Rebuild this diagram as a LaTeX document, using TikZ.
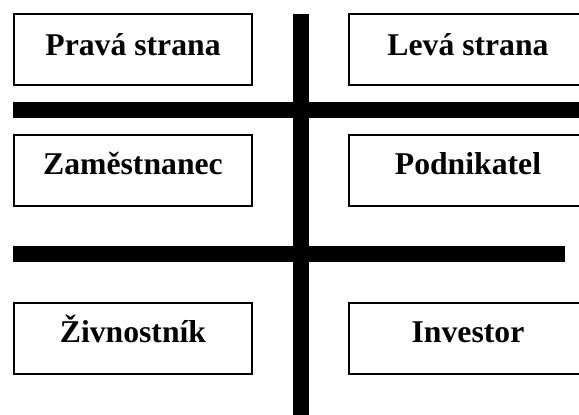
\documentclass[tikz,border=0pt]{standalone}
\usepackage{fontspec}
\setmainfont{Liberation Serif}
\begin{document}
\begin{tikzpicture}[x=1pt,y=-1pt,
  box/.style={draw=black,line width=2pt,fill=white,minimum width=238.6pt,minimum height=71pt,inner sep=0pt,outer sep=0pt},
  lbl/.style={anchor=base,inner sep=0pt,font=\fontsize{31.7}{36}\selectfont\bfseries},
  bar/.style={fill=black}]
\useasboundingbox (0,0) rectangle (579,415);
\begin{scope}
\clip (0,0) rectangle (579,415);
% boxes
\node[box] (pl) at (133,49.5) {};
\node[box] (pr) at (468,49.5) {};
\node[box] (ml) at (133,170) {};
\node[box] (mr) at (468,170) {};
\node[box] (bl) at (133,338) {};
\node[box] (br) at (468,338) {};
% labels
\node[lbl] (tpl) at (133,55) {Pravá strana};
\node[lbl] (tpr) at (468,55) {Levá strana};
\node[lbl] (tml) at (133,174) {Zaměstnanec};
\node[lbl] (tmr) at (468,174) {Podnikatel};
\node[lbl] (tbl) at (133,342.7) {Živnostník};
\node[lbl] (tbr) at (468,342.7) {Investor};
% bars
\fill[bar] (13,102.3) rectangle (579,117.7);
\fill[bar] (13,246) rectangle (565,262);
\fill[bar] (293.3,14) rectangle (309,415);
\end{scope}
\end{tikzpicture}
\end{document}
